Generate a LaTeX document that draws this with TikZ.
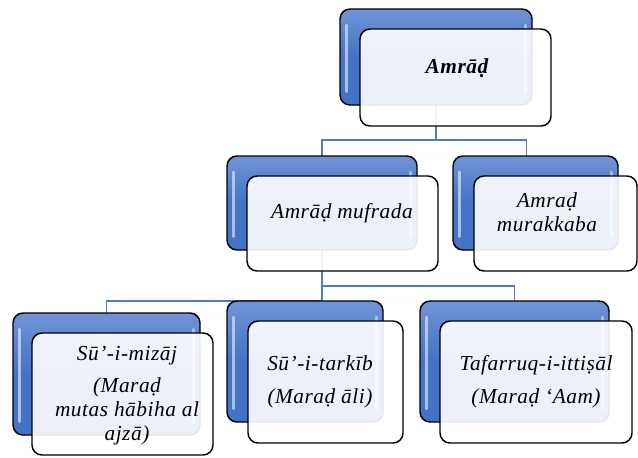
\documentclass[tikz,border=0pt]{standalone}
\usepackage{fontspec}
\setmainfont{Liberation Serif}[LetterSpace=2.5]
\usetikzlibrary{backgrounds}
\definecolor{bxblue}{RGB}{68,114,196}
\definecolor{bxbluelt}{RGB}{112,148,214}
\definecolor{connblue}{RGB}{79,122,198}
\tikzset{
  bluebox/.style={draw=black, line width=1.1pt, rounded corners=7.5pt, inner sep=0pt, outer sep=0pt,
    top color=bxbluelt, bottom color=bxblue, middle color=bxblue,
    path picture={
      \draw[white, opacity=.55, line width=2.2pt, line cap=round]
        ([xshift=5pt,yshift=-12pt]path picture bounding box.north west) --
        ([xshift=5pt,yshift=10pt]path picture bounding box.south west);
      \draw[white, opacity=.45, line width=2.2pt, line cap=round]
        ([xshift=-5pt,yshift=-12pt]path picture bounding box.north east) --
        ([xshift=-5pt,yshift=10pt]path picture bounding box.south east);
    }},
  whitebox/.style={draw=black, line width=1.1pt, rounded corners=7.5pt, inner sep=0pt, outer sep=0pt,
    fill=white, fill opacity=.9, draw opacity=1},
  conn/.style={draw=connblue, line width=1.4pt},
  txt/.style={align=center, inner sep=0pt, font=\fontsize{16}{18}\selectfont\itshape}
}
\newcommand\backbox[5]{%
  \node[bluebox, minimum width={(#4-#2)*0.75pt}, minimum height={(#5-#3)*0.75pt}] (#1b) at ({(#2+#4)/2},{(#3+#5)/2}) {};
}
\newcommand\whbox[5]{%
  \node[whitebox, minimum width={(#4-#2)*0.75pt}, minimum height={(#5-#3)*0.75pt}] (#1w) at ({(#2+#4)/2},{(#3+#5)/2}) {};
}
\begin{document}
\begin{tikzpicture}[x=0.75pt,y=-0.75pt]
\useasboundingbox (0,0) rectangle (638,457);
% blue back boxes
\backbox{t}{340}{9}{532}{105}
\backbox{ml}{227}{156}{417}{250}
\backbox{mr}{453}{156}{618}{250}
\backbox{bl}{13}{313}{200}{435}
\backbox{bm}{227}{301}{383}{422}
\backbox{br}{420}{301}{609}{422}
% white front boxes
\whbox{t}{360}{29}{551}{126}
\whbox{ml}{247}{176}{438}{271}
\whbox{mr}{474}{176}{637}{271}
\whbox{bl}{32}{333}{213}{455}
\whbox{bm}{248}{321}{403}{443}
\whbox{br}{440}{321}{632}{443}
% connectors
\coordinate (j1) at (436,140);
\coordinate (j2) at (320,286);
\begin{scope}[on background layer]
  \draw[conn] (tb.south) -- (j1) -| (mlb.north);
  \draw[conn] (j1) -| ([xshift=-6.75pt]mrb.north);
  \draw[conn] (mlb.south) -- (mlb.south |- bmb.north) -| (blb.north);
  \draw[conn] (mlb.south |- j2) -| (brb.north);
\end{scope}
% texts
\node[txt, font=\fontsize{16}{18}\selectfont\bfseries\itshape] (tt) at (457,68) {Amrāḍ};
\node[txt] (mlt) at (342,213) {Amrāḍ mufrada};
\node[txt] (mrt) at (547,212) {Amraḍ\\murakkaba};
\node[txt] (blt) at (127,396) {Sū’-i-mizāj\\[6pt](Maraḍ\\mutas hābiha al\\ajzā)};
\node[txt] (bmt) at (320,382) {Sū’-i-tarkīb\\[6.5pt](Maraḍ āli)};
\node[txt] (brt) at (536,382) {Tafarruq-i-ittiṣāl\\[6.5pt](Maraḍ ‘Aam)};
\end{tikzpicture}
\end{document}
